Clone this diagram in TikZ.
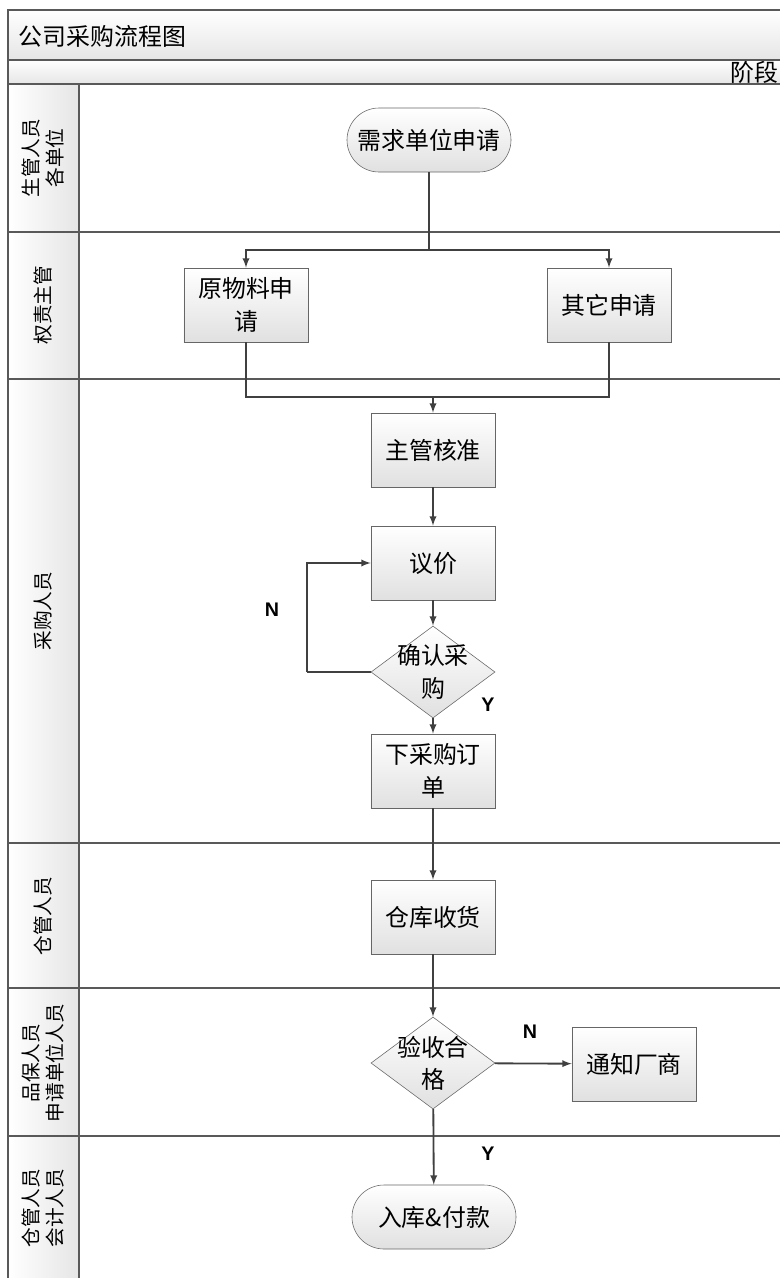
\documentclass[tikz,border=0pt]{standalone}
\usepackage{fontspec}
\setmainfont{Noto Sans CJK SC}
\setsansfont{Liberation Sans}
\usetikzlibrary{shapes.geometric}

\begin{document}
\begin{tikzpicture}[x=0.025cm, y=-0.025cm, >=latex,
    font=\fontsize{17}{23}\selectfont,
    lane/.style={draw=black!65, line width=0.8pt},
    task/.style={draw=black!60, top color=white, bottom color=black!12, minimum width=3.1cm, minimum height=1.85cm, align=center, inner sep=2pt},
    term/.style={task, rounded corners=0.8cm, minimum width=4.1cm, minimum height=1.6cm},
    decide/.style={draw=black!60, diamond, top color=white, bottom color=black!12, minimum width=3.1cm, minimum height=2.3cm, inner sep=-16pt, align=center},
    lanelabel/.style={rotate=90, align=center, font=\fontsize{14}{17}\selectfont},
    flow/.style={draw=black!75, line width=1.3pt},
    yn/.style={font=\sffamily\bfseries\fontsize{14}{16}\selectfont}]
    \useasboundingbox (0,0) rectangle (780,1278);
    \clip (0,0) rectangle (780,1278);

    % Bahnen
    \fill[top color=white, bottom color=black!10] (8,10) rectangle (800,60);
    \fill[top color=white, bottom color=black!10] (8,60) rectangle (800,84);
    \fill[left color=white, right color=black!10] (8,84) rectangle (79,1300);
    \draw[lane] (8,10) rectangle (800,1300);
    \foreach \y in {60,84,232,379,843,988,1136}
        \draw[lane] (8,\y) -- (800,\y);
    \draw[lane] (79,84) -- (79,1300);

    \node[anchor=west] (title) at (14,36) {公司采购流程图};
    \node[anchor=east, inner sep=1pt] (phase) at (780,72) {阶段};

    \node[lanelabel] (l1) at (43,158) {生管人员\\各单位};
    \node[lanelabel] (l2) at (43,305) {权责主管};
    \node[lanelabel] (l3) at (43,611) {采购人员};
    \node[lanelabel] (l4) at (43,916) {仓管人员};
    \node[lanelabel] (l5) at (43,1063) {品保人员\\申请单位人员};
    \node[lanelabel] (l6) at (43,1208) {仓管人员\\会计人员};

    % Knoten
    \node[term] (apply) at (429,140) {需求单位申请};
    \node[task] (raw) at (246,305) {原物料申\\请};
    \node[task] (other) at (609,305) {其它申请};
    \node[task] (approve) at (433,450) {主管核准};
    \node[task] (price) at (433,563) {议价};
    \node[decide] (confirm) at (433,672) {确认采\\购};
    \node[task] (order) at (433,771) {下采购订\\单};
    \node[task] (receive) at (433,917) {仓库收货};
    \node[decide] (check) at (433,1063) {验收合\\格};
    \node[task] (notify) at (634,1064) {通知厂商};
    \node[term] (store) at (434,1217) {入库\&付款};

    \coordinate (split) at (429,250);
    \coordinate (merge) at (433,397);
    \coordinate (loop) at (307,672);

    % Kanten
    \draw[flow] (apply) -- (split);
    \draw[flow, ->] (split) -| (raw);
    \draw[flow, ->] (split) -| (other);
    \draw[flow] (raw) |- (merge);
    \draw[flow] (other) |- (merge);
    \draw[flow, ->] (merge) -- (approve);
    \draw[flow, ->] (approve) -- (price);
    \draw[flow, ->] (price) -- (confirm);
    \draw[flow, ->] (confirm) -- (order);
    \draw[flow] (confirm.west) -- (loop);
    \draw[flow, ->] (loop) |- (price.west);
    \draw[flow, ->] (order) -- (receive);
    \draw[flow, ->] (receive) -- (check);
    \draw[flow, ->] (check) -- (notify);
    \draw[flow, ->] (check) -- (store);

    \node[yn] (n1) at (272,610) {N};
    \node[yn] (y1) at (488,705) {Y};
    \node[yn] (n2) at (530,1032) {N};
    \node[yn] (y2) at (488,1154) {Y};
\end{tikzpicture}
\end{document}
